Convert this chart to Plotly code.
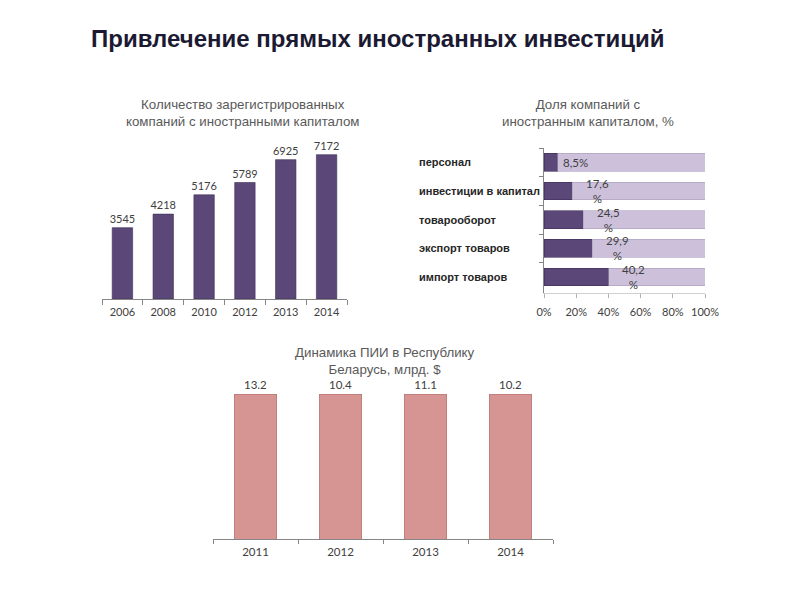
import plotly.graph_objects as go

# ---- data ----
years1 = ["2006", "2008", "2010", "2012", "2013", "2014"]
companies = [3545, 4218, 5176, 5789, 6925, 7172]

share_cats = ["персонал", "инвестиции в капитал", "товарооборот", "экспорт товаров", "импорт товаров"]
share_vals = [8.5, 17.6, 24.5, 29.9, 40.2]
share_rest = [100 - v for v in share_vals]
share_labels = ["8,5%", "17,6<br>%", "24,5<br>%", "29,9<br>%", "40,2<br>%"]

years3 = ["2011", "2012", "2013", "2014"]
fdi = [13.2, 10.4, 11.1, 10.2]
fdi_labels = ["13.2", "10.4", "11.1", "10.2"]

W, H = 800, 600
def px(x): return x / W
def py(y): return 1 - y / H

DARK = "#5b4778"
LIGHT = "#ccc0da"
PINK = "#d69592"
TXT = "#404040"
TTL = "#595959"
NUMFONT = "Lato, Liberation Sans, Arial"
SANS = "Liberation Sans, Arial"

fig = go.Figure()

# chart 1 : plain columns from zero (waterfall with absolute measures, unaffected by barnorm)
fig.add_trace(go.Waterfall(
    x=years1, y=companies, measure=["absolute"] * len(companies), width=0.5,
    totals=dict(marker=dict(color=DARK, line=dict(width=0.6, color="#3e2f55"))),
    increasing=dict(marker=dict(color=DARK, line=dict(width=0.6, color="#3e2f55"))),
    decreasing=dict(marker=dict(color=DARK, line=dict(width=0.6, color="#3e2f55"))),
    connector=dict(visible=False),
    text=[str(v) for v in companies], textposition="outside", cliponaxis=False,
    constraintext="none",
    textfont=dict(family=NUMFONT, size=11, color=TXT), xaxis="x", yaxis="y", showlegend=False))

# chart 2
fig.add_trace(go.Bar(
    y=share_cats, x=share_vals, orientation="h", width=0.62,
    marker=dict(color=DARK, line=dict(width=0.6, color="#3e2f55")),
    xaxis="x2", yaxis="y2", showlegend=False))
fig.add_trace(go.Bar(
    y=share_cats, x=share_rest, orientation="h", width=0.62,
    marker=dict(color=LIGHT, line=dict(width=0.6, color="#a99cba")),
    xaxis="x2", yaxis="y2", showlegend=False))

# chart 3 : 100% columns (barnorm = percent)
fig.add_trace(go.Bar(
    x=years3, y=fdi, width=0.5, marker=dict(color=PINK, line=dict(width=0.6, color="#b07572")),
    text=fdi_labels, textposition="outside", cliponaxis=False, constraintext="none",
    textfont=dict(family=NUMFONT, size=11.5, color=TXT),
    xaxis="x3", yaxis="y3", showlegend=False))

annotations = []
annotations.append(dict(text="<b>Привлечение прямых иностранных инвестиций</b>", x=px(377), y=py(38),
                        xref="paper", yref="paper", xanchor="center", yanchor="middle", showarrow=False,
                        font=dict(family=SANS, size=24, color="#1c1a33")))
annotations.append(dict(text="Количество зарегистрированных<br>компаний с иностранными капиталом",
                        x=px(242), y=py(113), xref="paper", yref="paper", xanchor="center",
                        yanchor="middle", showarrow=False,
                        font=dict(family=SANS, size=13.3, color=TTL)))
annotations.append(dict(text="Доля компаний с<br>иностранным капиталом, %",
                        x=px(588), y=py(113), xref="paper", yref="paper", xanchor="center",
                        yanchor="middle", showarrow=False,
                        font=dict(family=SANS, size=13.3, color=TTL)))
annotations.append(dict(text="Динамика ПИИ в Республику<br>Беларусь, млрд. $",
                        x=px(385), y=py(361), xref="paper", yref="paper", xanchor="center",
                        yanchor="middle", showarrow=False,
                        font=dict(family=SANS, size=13.3, color=TTL)))
for c in share_cats:
    annotations.append(dict(text="<b>" + c + "</b>", x=px(417), y=c, xref="paper", yref="y2",
                            xanchor="left", showarrow=False,
                            font=dict(family=SANS, size=11, color="#262626")))
for c, v, lab in zip(share_cats, share_vals, share_labels):
    annotations.append(dict(text=lab, x=v, y=c, xref="x2", yref="y2", xanchor="center",
                            xshift=18 if "<br>" not in lab else 25, showarrow=False,
                            font=dict(family=NUMFONT, size=11.5, color=TXT)))

axis_line = dict(showline=True, linecolor="#868686", linewidth=1, showgrid=False, zeroline=False,
                 automargin=False)

fig.update_layout(
    width=W, height=H, margin=dict(l=0, r=0, t=0, b=0, autoexpand=False),
    paper_bgcolor="white", plot_bgcolor="rgba(0,0,0,0)",
    barmode="stack", barnorm="percent", waterfallgap=0.5,
    annotations=annotations,
    xaxis=dict(domain=[px(102), px(347)], type="category", ticks="outside", tickson="boundaries",
               ticklen=5, tickcolor="#868686", tickangle=0, ticklabelstandoff=3,
               tickfont=dict(family=NUMFONT, size=11, color=TXT), anchor="y", **axis_line),
    yaxis=dict(domain=[py(299), py(138)], range=[0, 8000], visible=False, anchor="x", automargin=False),
    xaxis2=dict(domain=[px(544), px(705)], range=[0, 100], dtick=20, ticksuffix="%",
                ticks="outside", ticklen=4, tickcolor="#b0b0b0", ticklabelstandoff=5, tickangle=0,
                showline=True, linecolor="#d0d0d0", linewidth=1, showgrid=False, zeroline=False,
                automargin=False,
                tickfont=dict(family=NUMFONT, size=11, color=TXT), anchor="y2"),
    yaxis2=dict(domain=[py(293), py(148)], type="category", autorange="reversed", ticks="outside",
                tickson="boundaries", ticklen=4, tickcolor="#868686", showticklabels=False,
                anchor="x2", **axis_line),
    xaxis3=dict(domain=[px(213), px(553)], type="category", ticks="outside", tickson="boundaries",
                ticklen=4, tickcolor="#868686", tickangle=0, ticklabelstandoff=2,
                tickfont=dict(family=NUMFONT, size=11.5, color=TXT), anchor="y3", **axis_line),
    yaxis3=dict(domain=[py(539), py(380)], range=[0, 110], visible=False, anchor="x3", automargin=False),
)

fig.write_html("out.html", config={"displayModeBar": False},
               post_script="document.body.style.margin='0';")
